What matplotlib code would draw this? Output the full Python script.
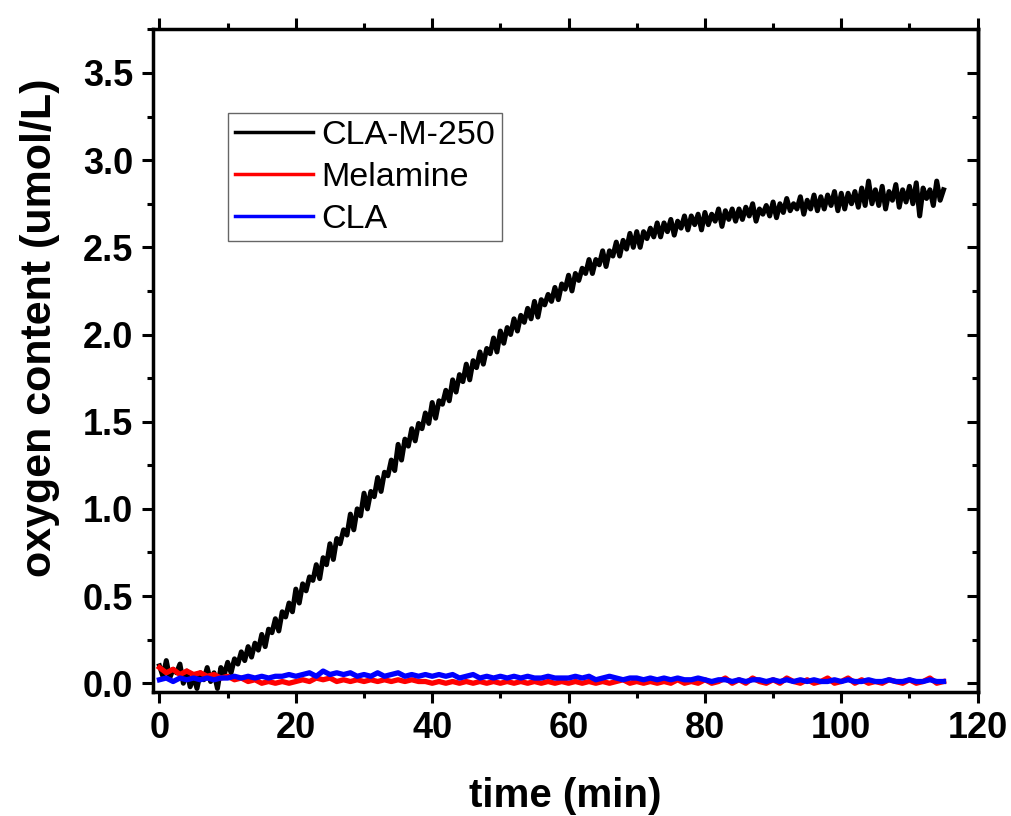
import numpy as np
import matplotlib
matplotlib.use('Agg')
import matplotlib.pyplot as plt
from matplotlib.ticker import MultipleLocator

plt.rcParams['font.family'] = ['Liberation Sans', 'DejaVu Sans']

# CLA-M-250, every 0.5 min from 0 to 115
t_black = np.arange(0, 115.5, 0.5)
o2_black = [
    0.10, 0.04, 0.13, 0.03, 0.08, 0.06, 0.11, 0.00, 0.07, -0.02,
    0.04, -0.03, 0.06, 0.02, 0.09, 0.01, 0.06, -0.03, 0.09, 0.05,
    0.12, 0.06, 0.14, 0.11, 0.18, 0.13, 0.21, 0.15, 0.23, 0.19,
    0.28, 0.21, 0.31, 0.29, 0.37, 0.30, 0.41, 0.38, 0.46, 0.41,
    0.54, 0.46, 0.57, 0.53, 0.61, 0.59, 0.68, 0.60, 0.72, 0.68,
    0.80, 0.71, 0.83, 0.80, 0.88, 0.85, 0.97, 0.88, 1.00, 0.96,
    1.09, 1.00, 1.10, 1.07, 1.18, 1.10, 1.21, 1.19, 1.28, 1.22,
    1.37, 1.28, 1.40, 1.36, 1.46, 1.39, 1.49, 1.46, 1.55, 1.49,
    1.61, 1.52, 1.62, 1.60, 1.68, 1.62, 1.74, 1.67, 1.77, 1.73,
    1.83, 1.74, 1.85, 1.81, 1.90, 1.83, 1.92, 1.89, 1.98, 1.90,
    2.02, 1.95, 2.04, 2.00, 2.09, 2.02, 2.11, 2.07, 2.15, 2.09,
    2.19, 2.10, 2.20, 2.17, 2.23, 2.19, 2.27, 2.20, 2.29, 2.26,
    2.34, 2.25, 2.35, 2.31, 2.38, 2.35, 2.43, 2.35, 2.43, 2.40,
    2.48, 2.39, 2.48, 2.45, 2.53, 2.45, 2.54, 2.49, 2.58, 2.50,
    2.59, 2.50, 2.59, 2.55, 2.61, 2.56, 2.64, 2.56, 2.64, 2.59,
    2.66, 2.57, 2.65, 2.61, 2.68, 2.60, 2.68, 2.63, 2.69, 2.60,
    2.70, 2.63, 2.69, 2.65, 2.72, 2.62, 2.71, 2.66, 2.72, 2.65,
    2.72, 2.66, 2.73, 2.68, 2.75, 2.65, 2.72, 2.69, 2.74, 2.68,
    2.76, 2.67, 2.75, 2.70, 2.78, 2.71, 2.75, 2.72, 2.79, 2.69,
    2.77, 2.72, 2.80, 2.71, 2.79, 2.72, 2.80, 2.74, 2.82, 2.71,
    2.81, 2.72, 2.81, 2.75, 2.82, 2.73, 2.84, 2.74, 2.88, 2.75,
    2.83, 2.74, 2.85, 2.72, 2.82, 2.77, 2.86, 2.73, 2.83, 2.76,
    2.85, 2.75, 2.87, 2.68, 2.84, 2.78, 2.83, 2.74, 2.88, 2.77,
    2.83,
]

# Melamine and CLA, every 1 min from 0 to 115
t_low = np.arange(0, 116, 1)
o2_melamine = [
    0.09, 0.06, 0.08, 0.05, 0.07, 0.05, 0.06, 0.04, 0.05, 0.03,
    0.04, 0.02, 0.03, 0.01, 0.02, 0.00, 0.01, 0.00, 0.01, 0.00,
    0.01, 0.02, 0.01, 0.03, 0.02, 0.03, 0.01, 0.02, 0.01, 0.02,
    0.01, 0.02, 0.01, 0.02, 0.01, 0.02, 0.01, 0.02, 0.01, 0.01,
    0.00, 0.01, 0.00, 0.01, 0.00, 0.01, 0.00, 0.01, 0.00, 0.01,
    0.00, 0.01, 0.00, 0.01, 0.00, 0.01, 0.00, 0.01, 0.00, 0.01,
    0.00, 0.01, 0.00, 0.01, 0.00, 0.01, 0.00, 0.01, 0.02, 0.00,
    0.01, 0.00, 0.01, 0.00, 0.01, 0.00, 0.02, 0.00, 0.01, 0.00,
    0.02, 0.00, 0.01, 0.03, 0.00, 0.02, 0.00, 0.03, 0.01, 0.00,
    0.02, 0.00, 0.03, 0.01, 0.00, 0.02, 0.00, 0.01, 0.03, 0.00,
    0.01, 0.03, 0.00, 0.02, 0.00, 0.01, 0.00, 0.02, 0.01, 0.00,
    0.02, 0.00, 0.01, 0.03, 0.00, 0.01,
]
o2_cla = [
    0.02, 0.03, 0.01, 0.03, 0.02, 0.03, 0.02, 0.03, 0.02, 0.03,
    0.03, 0.04, 0.03, 0.04, 0.03, 0.04, 0.03, 0.04, 0.04, 0.05,
    0.04, 0.05, 0.06, 0.04, 0.07, 0.05, 0.06, 0.05, 0.06, 0.04,
    0.05, 0.04, 0.06, 0.04, 0.05, 0.06, 0.04, 0.05, 0.04, 0.05,
    0.04, 0.05, 0.04, 0.05, 0.03, 0.04, 0.05, 0.03, 0.04, 0.03,
    0.04, 0.03, 0.04, 0.03, 0.04, 0.03, 0.03, 0.04, 0.03, 0.03,
    0.03, 0.04, 0.03, 0.04, 0.02, 0.03, 0.04, 0.03, 0.02, 0.03,
    0.03, 0.02, 0.03, 0.02, 0.03, 0.02, 0.03, 0.02, 0.02, 0.03,
    0.02, 0.01, 0.02, 0.02, 0.01, 0.02, 0.01, 0.02, 0.02, 0.01,
    0.02, 0.01, 0.02, 0.01, 0.02, 0.01, 0.02, 0.01, 0.01, 0.02,
    0.01, 0.02, 0.01, 0.01, 0.02, 0.01, 0.01, 0.02, 0.01, 0.01,
    0.02, 0.01, 0.01, 0.02, 0.01, 0.01,
]

fig = plt.figure(figsize=(10.11, 8.16), dpi=100)
ax = fig.add_axes([0.151, 0.152, 0.816, 0.812])

ax.plot(t_black, o2_black, color='black', lw=3.6, label='CLA-M-250')
ax.plot(t_low, o2_melamine, color='red', lw=3.8, label='Melamine')
ax.plot(t_low, o2_cla, color='blue', lw=3.8, label='CLA')

ax.set_xlim(-1, 120)
ax.set_ylim(-0.05, 3.75)
ax.xaxis.set_major_locator(MultipleLocator(20))
ax.xaxis.set_minor_locator(MultipleLocator(10))
ax.yaxis.set_major_locator(MultipleLocator(0.5))
ax.yaxis.set_minor_locator(MultipleLocator(0.25))
ax.yaxis.set_major_formatter(matplotlib.ticker.FormatStrFormatter('%.1f'))

for s in ax.spines.values():
    s.set_linewidth(2.5)

ax.tick_params(which='both', direction='out', width=2.2, top=True, right=False,
               labelsize=26, pad=6)
ax.tick_params(which='major', length=8)
ax.tick_params(which='minor', length=4.5)
for lab in ax.get_xticklabels() + ax.get_yticklabels():
    lab.set_fontweight('bold')

# right side ticks point inward
ax2 = ax.secondary_yaxis('right')
ax2.yaxis.set_major_locator(MultipleLocator(0.5))
ax2.yaxis.set_minor_locator(MultipleLocator(0.25))
ax2.tick_params(which='both', direction='in', width=2.2, labelright=False)
ax2.tick_params(which='major', length=8)
ax2.tick_params(which='minor', length=4.5)
ax2.spines['right'].set_linewidth(2.5)

ax.set_xlabel('time (min)', fontsize=29, fontweight='bold', labelpad=22)
ax.set_ylabel('oxygen content (umol/L)', fontsize=31, fontweight='bold')
ax.yaxis.set_label_coords(-0.112, 0.55)

leg = ax.legend(loc='upper left', bbox_to_anchor=(228 / 1011, 1 - 113 / 816),
                bbox_transform=fig.transFigure, fontsize=24.5, fancybox=False,
                framealpha=1, edgecolor='#666666', handlelength=2.3,
                handletextpad=0.25, borderpad=0.2, labelspacing=0.32,
                borderaxespad=0)
leg.get_frame().set_linewidth(1.0)
for line in leg.get_lines():
    line.set_linewidth(2.5)

fig.savefig('out.png', dpi=100)
